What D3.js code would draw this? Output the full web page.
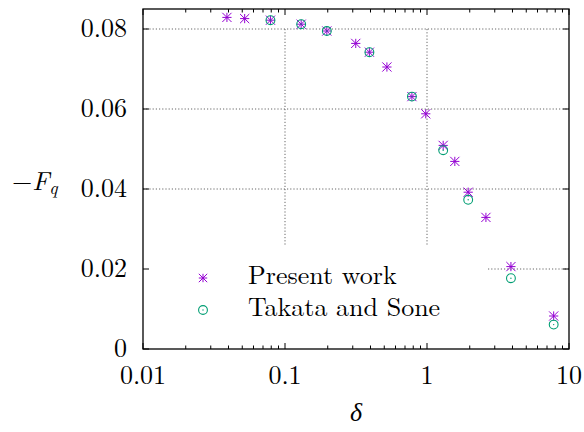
<!DOCTYPE html>
<html>
<head>
<meta charset="utf-8">
<script src="https://cdn.jsdelivr.net/npm/d3@7"></script>
<style>
body { margin: 0; background: #fff; }
</style>
</head>
<body>
<svg id="chart" width="584" height="432"></svg>
<script>
// data
var presentX = [0.039, 0.052, 0.079, 0.13, 0.197, 0.315, 0.393, 0.522, 0.783, 0.98, 1.3, 1.57, 1.95, 2.6, 3.9, 7.8];
var presentY = [0.0829, 0.0826, 0.0822, 0.0812, 0.0795, 0.0764, 0.0742, 0.0705, 0.0631, 0.0588, 0.0509, 0.0469, 0.0392, 0.0329, 0.0206, 0.00825];
var takataX = [0.079, 0.13, 0.197, 0.393, 0.783, 1.3, 1.95, 3.9, 7.8];
var takataY = [0.0822, 0.0812, 0.0795, 0.0742, 0.0631, 0.0497, 0.0373, 0.0177, 0.0061];
var xTicks = [0.01, 0.1, 1, 10];
var xTickLabels = ["0.01", "0.1", "1", "10"];
var yTicks = [0, 0.02, 0.04, 0.06, 0.08];
var yTickLabels = ["0", "0.02", "0.04", "0.06", "0.08"];
var seriesNames = ["Present work", "Takata and Sone"];
var purple = "#9400d3", green = "#009e73";
var serif = "Latin Modern Roman";
var fs = 26;

var svg = d3.select("#chart");
var pLeft = 143, pRight = 569, pTop = 9, pBottom = 349;

var x = d3.scaleLog().domain([0.01, 10]).range([pLeft, pRight]);
var y = d3.scaleLinear().domain([0, 0.085]).range([pBottom, pTop]);

// key box blanks out part of the grid
var keyRight = 488, keyTop = 245;

var grid = svg.append("g").attr("stroke", "#666").attr("stroke-width", 1)
    .attr("stroke-dasharray", "1.2,2");
// vertical grid (0.1 and 1)
[0.1, 1].forEach(function(v) {
    grid.append("line").attr("x1", x(v)).attr("x2", x(v))
        .attr("y1", y(0.08)).attr("y2", keyTop);
});
[0.02, 0.04, 0.06, 0.08].forEach(function(v) {
    grid.append("line")
        .attr("x1", v < 0.03 ? keyRight : pLeft).attr("x2", pRight)
        .attr("y1", y(v)).attr("y2", y(v));
});

// ticks (inward, all four sides)
var ticks = svg.append("g").attr("stroke", "#000").attr("stroke-width", 1);
var minor = [];
[0.01, 0.1, 1].forEach(function(d) {
    for (var k = 2; k <= 9; k++) minor.push(d * k);
});
minor.forEach(function(v) {
    ticks.append("line").attr("x1", x(v)).attr("x2", x(v)).attr("y1", pBottom).attr("y2", pBottom - 3.5);
    ticks.append("line").attr("x1", x(v)).attr("x2", x(v)).attr("y1", pTop).attr("y2", pTop + 3.5);
});
xTicks.forEach(function(v) {
    ticks.append("line").attr("x1", x(v)).attr("x2", x(v)).attr("y1", pBottom).attr("y2", pBottom - 6);
    ticks.append("line").attr("x1", x(v)).attr("x2", x(v)).attr("y1", pTop).attr("y2", pTop + 6);
});
yTicks.forEach(function(v) {
    ticks.append("line").attr("x1", pLeft).attr("x2", pLeft + 6).attr("y1", y(v)).attr("y2", y(v));
    ticks.append("line").attr("x1", pRight).attr("x2", pRight - 6).attr("y1", y(v)).attr("y2", y(v));
});

// frame
svg.append("rect").attr("x", pLeft).attr("y", pTop)
    .attr("width", pRight - pLeft).attr("height", pBottom - pTop)
    .attr("fill", "none").attr("stroke", "#000").attr("stroke-width", 1.3);

// tick labels
svg.append("g").selectAll("text").data(xTicks).enter().append("text")
    .attr("x", function(d) { return x(d); }).attr("y", pBottom + 35)
    .attr("text-anchor", "middle").style("font-size", fs + "px").style("font-family", serif)
    .text(function(d, i) { return xTickLabels[i]; });
svg.append("g").selectAll("text").data(yTicks).enter().append("text")
    .attr("x", 127).attr("y", function(d) { return y(d) + 8; })
    .attr("text-anchor", "end").style("font-size", fs + "px").style("font-family", serif)
    .text(function(d, i) { return yTickLabels[i]; });

// axis titles
var yl = svg.append("text").attr("x", 12).attr("y", 190)
    .style("font-size", fs + "px").style("font-family", serif);
yl.append("tspan").text("\u2212");
yl.append("tspan").style("font-style", "italic").text("F");
yl.append("tspan").style("font-style", "italic").style("font-size", "18px").attr("dy", 4).text("q");
svg.append("text").attr("x", 356).attr("y", 421).attr("text-anchor", "middle")
    .style("font-size", fs + "px").style("font-style", "italic").style("font-family", serif).text("\u03b4");

// markers
function star(g, cx, cy, r) {
    g.append("path")
        .attr("d", "M" + (cx - r) + "," + cy + "H" + (cx + r) +
            "M" + cx + "," + (cy - r) + "V" + (cy + r) +
            "M" + (cx - r) + "," + (cy - r) + "L" + (cx + r) + "," + (cy + r) +
            "M" + (cx - r) + "," + (cy + r) + "L" + (cx + r) + "," + (cy - r))
        .attr("stroke", purple).attr("stroke-width", 1).attr("fill", "none");
}
function circ(g, cx, cy) {
    g.append("circle").attr("cx", cx).attr("cy", cy).attr("r", 4.4)
        .attr("fill", "none").attr("stroke", green).attr("stroke-width", 1.1);
    g.append("circle").attr("cx", cx).attr("cy", cy).attr("r", 0.7).attr("fill", green);
}

var pts = svg.append("g");
presentX.forEach(function(v, i) { star(pts, x(v), y(presentY[i]), 4.6); });
takataX.forEach(function(v, i) { circ(pts, x(v), y(takataY[i])); });

// legend
var key = svg.append("g");
star(key, 203, 278, 4.2);
circ(key, 203, 310);
key.append("text").attr("x", 248).attr("y", 284)
    .style("font-size", fs + "px").style("font-family", serif).text(seriesNames[0]);
key.append("text").attr("x", 248).attr("y", 316)
    .style("font-size", fs + "px").style("font-family", serif).text(seriesNames[1]);
</script>
</body>
</html>
